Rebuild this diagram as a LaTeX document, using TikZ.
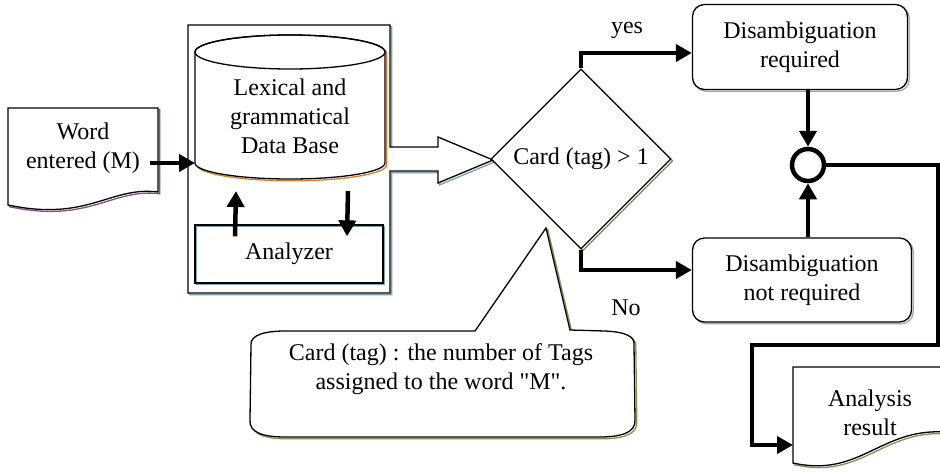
\documentclass[tikz,border=0pt]{standalone}
\usepackage{fontspec}
\setmainfont{Liberation Serif}[Ligatures=TeXOff]
\usepackage{tikz}
\usetikzlibrary{positioning, arrows.meta, shapes.geometric}

\begin{document}
\begin{tikzpicture}[x=1pt, y=-1pt, line width=1.3pt,
  every node/.style={font=\fontsize{24}{29}\selectfont, inner sep=2pt},
  shd/.style={preaction={draw=#1, transform canvas={shift={(1.8pt,-1.8pt)}}}},
  flow/.style={line width=4.5pt, -{Triangle[length=16pt,width=17pt]}},
  dis/.style={rectangle, rounded corners=12pt, draw, fill=white, shd=gray!70, align=center}]
  \useasboundingbox (0,0) rectangle (940,474);
  % input document
  \draw[shd=violet!35!gray, fill=white] (8,108) -- (158,108) -- (158,192)
    .. controls (110,186) and (88,222) .. (8,205) -- cycle;
  \node[align=center] (word) at (83,148) {Word\\entered (M)};
  \coordinate (wordout) at (150,163);
  % box with the hollow arrow
  \draw[shd=cyan!30!gray, fill=white] (390,147) -- (390,25) -- (188,25) -- (188,293) -- (390,293) -- (390,171)
    -- (438,171) -- (438,183) -- (493,160) -- (438,137) -- (438,147) -- cycle;
  % data base
  \draw[shd=brown!70!orange, fill=white] (195,52) -- (195,163) arc[start angle=180, end angle=0, x radius=95, y radius=16]
    -- (385,52) arc[start angle=0, end angle=-180, x radius=95, y radius=17] -- cycle;
  \draw (290,52) ellipse[x radius=95, y radius=17];
  \node[align=center] (db) at (290,116) {Lexical and\\grammatical\\Data Base};
  \coordinate (dbin) at (195,163);
  \coordinate (dbbot) at (290,191);
  \node[rectangle, draw, shd=cyan!30!gray, minimum width=188pt, minimum height=58pt] (anal) at (289,254) {Analyzer};
  \draw[flow] (wordout) -- (dbin);
  \draw[flow] ([xshift=-54pt,yshift=-12pt]anal.north) -- ([xshift=-54pt]dbbot);
  \draw[flow] ([xshift=58pt]dbbot) -- ([xshift=58pt,yshift=-12pt]anal.north);
  % decision
  \node[diamond, draw, fill=white, shd=brown!40!gray, minimum size=180pt, inner sep=0pt] (card) at (581,159) {Card (tag) > 1};
  \node[dis, minimum width=215pt, minimum height=85pt] (dis1) at (800,47) {Disambiguation\\required};
  \node[dis, minimum width=219pt, minimum height=84pt] (dis2) at (802,280) {Disambiguation\\not required};
  \node[circle, draw, line width=4.5pt, minimum size=32pt, inner sep=0pt] (circ) at (808,165) {};
  \draw[flow] (card.north) |- ([yshift=-6pt]dis1.west);
  \draw[flow] (card.south) |- ([yshift=10pt]dis2.west);
  \node (yes) at (627,30) {yes};
  \node (no) at (626,308) {No};
  \draw[flow] (circ |- dis1.south) -- (circ.north);
  \draw[flow] (circ |- dis2.north) -- (circ.south);
  % result
  \draw[shd=olive!40!gray, fill=white] (793,367) -- (945,367) -- (945,432)
    .. controls (880,428) and (860,478) .. (793,463) -- cycle;
  \node[align=center] (res) at (870,413) {Analysis\\result};
  \coordinate (resin) at (793,445);
  \draw[flow] (circ.east) -- (938,165) -- (938,345) -- (752,345) |- (resin);
  % callout
  \draw[shd=olive!40!gray, fill=white] (475,331) -- (546,228) -- (570,330) -- (605,331)
    .. controls (625,332) and (635,336) .. (634,345) -- (635,420)
    .. controls (636,433) and (620,437) .. (600,437) -- (285,437)
    .. controls (262,437) and (249,432) .. (250,420) -- (251,345)
    .. controls (250,335) and (265,331) .. (285,331) -- cycle;
  \node[align=center] (note) at (441,369) {Card (tag) : the number of Tags\\assigned to the word "M".};
\end{tikzpicture}
\end{document}
